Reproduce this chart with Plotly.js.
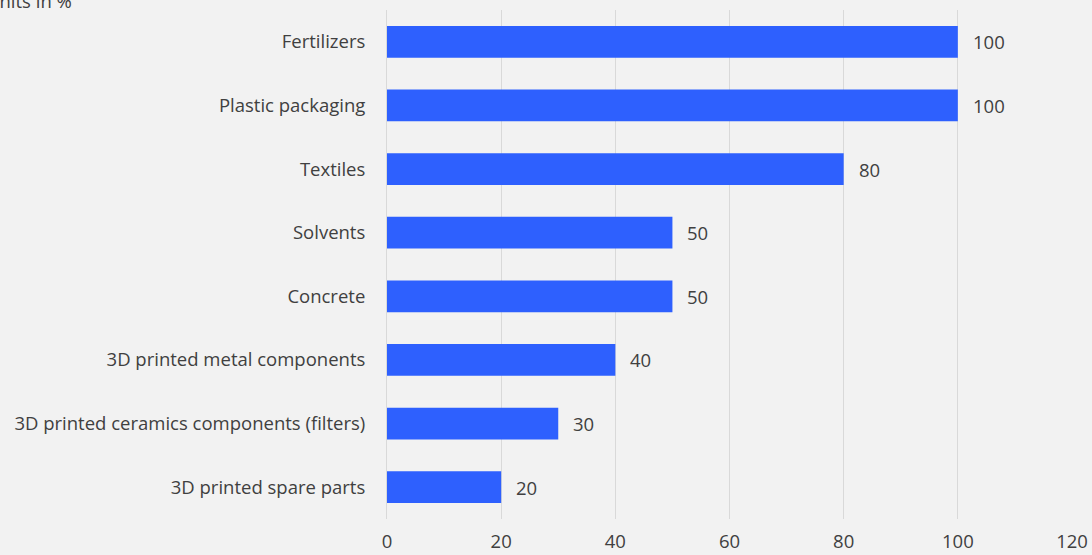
<!DOCTYPE html>
<html><head><meta charset="utf-8">
<script src="https://cdn.plot.ly/plotly-3.0.1.min.js"></script>
<style>html,body{margin:0;padding:0;background:#f2f2f2;}#chart{width:1092px;height:555px;}</style>
</head><body><div id="chart"></div>
<script>
const categories = ["Fertilizers","Plastic packaging","Textiles","Solvents","Concrete","3D printed metal components","3D printed ceramics components (filters)","3D printed spare parts"];
const values = [100,100,80,50,50,40,30,20];
const xTicks = [0,20,40,60,80,100,120];
const unitLabel = "Units in %";

const font = {family: "Open Sans, sans-serif", size: 18.5, color: "#404040"};
const trace = {
  type: "bar", orientation: "h",
  y: categories, x: values,
  marker: {color: "#2e60fe"},
  width: 0.5,
  hoverinfo: "skip"
};
const annotations = values.map((v, i) => ({
  x: v, y: categories[i], xref: "x", yref: "y",
  text: String(v), showarrow: false, xanchor: "left", xshift: 13,
  font: font
}));
annotations.push({
  xref: "paper", yref: "paper", x: -0.457, y: 1, xanchor: "right", yanchor: "middle",
  yshift: 10, text: unitLabel, showarrow: false, font: font
});
const layout = {
  width: 1092, height: 555,
  paper_bgcolor: "#f2f2f2", plot_bgcolor: "#f2f2f2",
  margin: {l: 387, r: 20, t: 10, b: 36},
  font: font,
  showlegend: false,
  bargap: 0.5,
  xaxis: {range: [0, 120], tickvals: xTicks, showgrid: true, gridcolor: "#d9d9d9", gridwidth: 1,
          zeroline: false, showline: false, ticks: "outside", ticklen: 6, tickcolor: "rgba(0,0,0,0)",
          tickfont: font, fixedrange: true},
  yaxis: {autorange: "reversed", showgrid: false, zeroline: false, showline: true, linecolor: "#d9d9d9",
          linewidth: 1, ticks: "", ticklabelstandoff: 17, tickfont: font, fixedrange: true},
  annotations: annotations
};
Plotly.newPlot("chart", [trace], layout, {displayModeBar: false, staticPlot: true});
</script></body></html>
